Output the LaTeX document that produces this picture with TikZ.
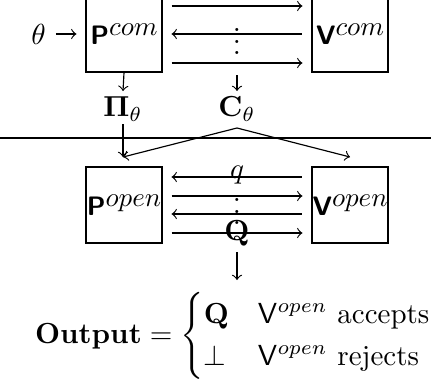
\documentclass[tikz,border=0pt]{standalone}
\usepackage{amsmath}
\usepackage{graphicx}
\newcommand{\boxlabel}[2]{{\fontsize{9.2}{11}\selectfont\textsf{\textbf{#1}}}\raisebox{3pt}{\scalebox{0.93}{$#2$}}}
\begin{document}
\begin{tikzpicture}[x=0.3448pt, y=-0.3448pt, >=to,
  box/.style={draw, minimum width=26.2pt, minimum height=26.2pt, inner sep=0pt},
  lbl/.style={inner sep=0pt}]
\clip (0,0) rectangle (431,387);
\useasboundingbox (0,0) rectangle (431,387);
% boxes
\node[box] (pcom) at (124,34) {\boxlabel{P}{com}};
\node[box] (vcom) at (350,34) {\boxlabel{V}{com}};
\node[box] (popen) at (124,205) {\boxlabel{P}{open}};
\node[box] (vopen) at (350,205) {\boxlabel{V}{open}};
% labels
\node (theta) at (38.5,34) {$\theta$};
\node[lbl] (topdots) at (237,33) {$\vdots$};
\node[lbl] (pi) at (123,109) {$\mathbf{\Pi}_\theta$};
\node[lbl] (ct) at (237,109) {$\mathbf{C}_\theta$};
\node[lbl] (q) at (237,175) {$q$};
\node[lbl] (botdots) at (237,203) {$\vdots$};
\node[lbl] (bigq) at (237,233) {$\mathbf{Q}$};
\node[lbl] (out) at (234,336) {$\textbf{Output} = \begin{cases} \mathbf{Q} & \mathsf{V}^{open}\text{ accepts}\\ \bot & \mathsf{V}^{open}\text{ rejects}\end{cases}$};
% coordinates
\coordinate (pcomdown) at (123,91);
\coordinate (ctstart) at (237,75);
\coordinate (ctdown) at (237,91);
\coordinate (pistart) at (123,124);
\coordinate (apex) at (237,128);
\coordinate (ptarget) at (123,157);
\coordinate (vtarget) at (350,157);
\coordinate (outstart) at (237,252);
\coordinate (outend) at (237,280);
\coordinate (lineL) at (0,138);
\coordinate (lineR) at (431,138);
% input
\draw[->, shorten >=3.1pt] (theta) -- (pcom);
% top messages
\draw[->] ([shift={(9,-28)}]pcom.east) -- ([shift={(-9,-28)}]vcom.west);
\draw[<-] ([shift={(9,0)}]pcom.east) -- ([shift={(-9,0)}]vcom.west);
\draw[->] ([shift={(9,29)}]pcom.east) -- ([shift={(-9,29)}]vcom.west);
% bottom messages
\draw[<-] ([shift={(9,-28)}]popen.east) -- ([shift={(-9,-28)}]vopen.west);
\draw[->] ([shift={(9,-9)}]popen.east) -- ([shift={(-9,-9)}]vopen.west);
\draw[<-] ([shift={(9,9)}]popen.east) -- ([shift={(-9,9)}]vopen.west);
\draw[->] ([shift={(9,28)}]popen.east) -- ([shift={(-9,28)}]vopen.west);
% downward arrows
\draw[->] (pcom.south) -- (pcomdown);
\draw[->] (ctstart) -- (ctdown);
\draw (lineL) -- (lineR);
\draw[->] (pistart) -- (ptarget);
\draw[->] (apex) -- (ptarget);
\draw[->] (apex) -- (vtarget);
\draw[->] (outstart) -- (outend);
\end{tikzpicture}
\end{document}
